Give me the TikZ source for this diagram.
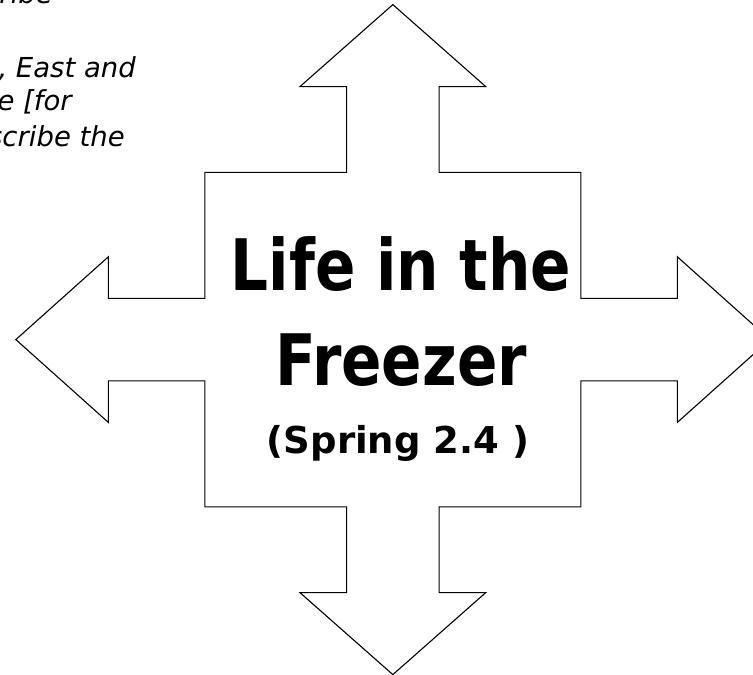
\documentclass[tikz,border=0pt]{standalone}
\usepackage{fontspec}
\newfontfamily\titlefont[FakeStretch=0.84]{DejaVu Sans}
\newfontfamily\subfont{DejaVu Sans}
\newfontfamily\notefont{DejaVu Sans}
\begin{document}
\begin{tikzpicture}[x=1pt,y=-1pt,
	title/.style={anchor=base, inner sep=0pt, font=\titlefont\bfseries\fontsize{71}{71}\selectfont},
	sub/.style={anchor=base, inner sep=0pt, font=\subfont\bfseries\fontsize{37}{37}\selectfont},
	note/.style={anchor=base east, inner sep=0pt, font=\notefont\itshape\fontsize{27.5}{27.5}\selectfont}]
			\useasboundingbox (0,0) rectangle (753,675);
			\clip (0,0) rectangle (753,675);
			\draw[line width=1.1pt, line join=miter] (392.85,4.6) -- (485.75,86.6) -- (439.05,86.6) -- (439.05,172.4) -- (580.85,172.4) -- (580.85,298.4) -- (677.35,298.4) -- (677.35,256.8) -- (769.85,339.6) -- (677.35,422.4) -- (677.35,380.8) -- (580.85,380.8) -- (580.85,506.8) -- (439.05,506.8) -- (439.05,592.6) -- (485.75,592.6) -- (392.85,674.6) -- (299.95,592.6) -- (346.65,592.6) -- (346.65,506.8) -- (204.85,506.8) -- (204.85,380.8) -- (108.35,380.8) -- (108.35,422.4) -- (15.85,339.6) -- (108.35,256.8) -- (108.35,298.4) -- (204.85,298.4) -- (204.85,172.4) -- (346.65,172.4) -- (346.65,86.6) -- (299.95,86.6) -- cycle;
			\node[title] (life) at (401,290.7) {Life in the};
			\node[title] (freezer) at (401,385.7) {Freezer};
			\node[sub] (spring) at (398,453) {(Spring 2.4 )};
			\node[note] (ribe) at (53,3.5) {ribe};
			\node[note] (east) at (136,77) {, East and};
			\node[note] (for) at (72,110.5) {e [for};
			\node[note] (scribe) at (125,146) {scribe the};
		\end{tikzpicture}
\end{document}
